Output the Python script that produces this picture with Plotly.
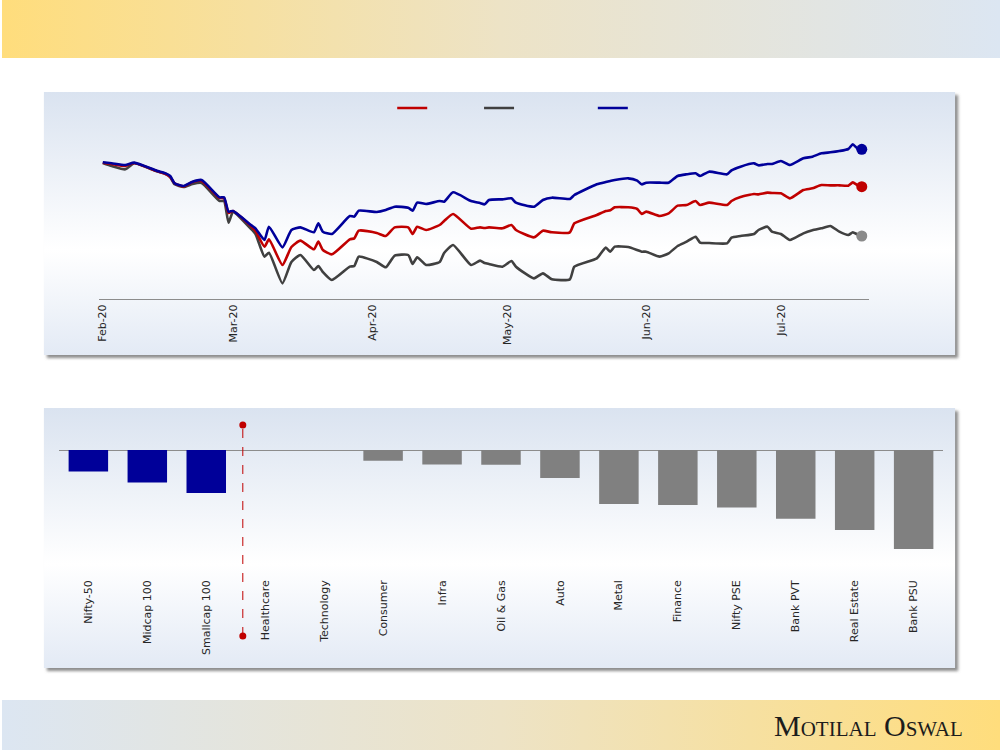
import base64
import plotly.graph_objects as go

# --- line chart data (rebased index) ---
dates = [
    '2020-02-01', '2020-02-03', '2020-02-06', '2020-02-08', '2020-02-13', '2020-02-15', '2020-02-16',
    '2020-02-17', '2020-02-19', '2020-02-21', '2020-02-23', '2020-02-27', '2020-02-28', '2020-02-29',
    '2020-03-01', '2020-03-05', '2020-03-06', '2020-03-08', '2020-03-09', '2020-03-12', '2020-03-14',
    '2020-03-16', '2020-03-19', '2020-03-20', '2020-03-21', '2020-03-23', '2020-03-27', '2020-03-28',
    '2020-03-29', '2020-04-02', '2020-04-04', '2020-04-06', '2020-04-09', '2020-04-10', '2020-04-11',
    '2020-04-13', '2020-04-16', '2020-04-17', '2020-04-19', '2020-04-23', '2020-04-25', '2020-04-26',
    '2020-04-27', '2020-04-30', '2020-05-02', '2020-05-03', '2020-05-07', '2020-05-09', '2020-05-11',
    '2020-05-15', '2020-05-16', '2020-05-21', '2020-05-23', '2020-05-24', '2020-05-25', '2020-05-28',
    '2020-05-30', '2020-05-31', '2020-06-01', '2020-06-04', '2020-06-06', '2020-06-08', '2020-06-10',
    '2020-06-12', '2020-06-13', '2020-06-15', '2020-06-19', '2020-06-20', '2020-06-22', '2020-06-25',
    '2020-06-26', '2020-06-28', '2020-06-29', '2020-07-01', '2020-07-03', '2020-07-06', '2020-07-08',
    '2020-07-10', '2020-07-12', '2020-07-14', '2020-07-16', '2020-07-17', '2020-07-18', '2020-07-19',
]

red_series = [
    99.8, 99.4, 98.8, 99.7, 97.3, 96.4, 95.5, 93.6, 92.7, 94.0, 94.3, 89.2, 89.2, 84.7,
    85.3, 80.8, 79.3, 74.6, 76.8, 69.1, 74.5, 76.4, 73.8, 76.1, 73.6, 72.3, 76.8, 77.1,
    79.4, 78.7, 77.8, 80.4, 80.4, 78.4, 80.6, 79.6, 81.1, 82.3, 84.4, 80.0, 80.4, 80.2,
    80.4, 80.1, 81.1, 79.6, 77.4, 79.4, 78.9, 78.9, 81.6, 84.1, 85.3, 85.5, 86.4, 86.4,
    85.9, 84.4, 85.1, 83.8, 84.6, 86.9, 87.1, 88.3, 87.1, 87.8, 87.1, 88.3, 89.5, 90.4,
    90.3, 90.8, 90.7, 90.6, 89.1, 91.6, 92.1, 93.1, 93.0, 93.0, 92.9, 93.9, 93.1, 92.6,
]

gray_series = [
    99.7, 98.8, 97.8, 99.6, 97.2, 96.4, 95.5, 93.3, 92.5, 93.4, 93.7, 88.3, 88.3, 81.8,
    85.0, 79.9, 78.4, 71.6, 72.8, 63.6, 70.0, 72.1, 67.6, 68.8, 67.0, 64.6, 68.6, 68.8,
    71.6, 70.0, 68.4, 71.9, 72.1, 69.4, 71.4, 69.1, 70.0, 72.7, 75.1, 69.1, 70.4, 69.7,
    69.4, 68.6, 70.3, 68.6, 65.1, 66.6, 64.8, 64.8, 68.6, 71.1, 74.3, 73.1, 74.6, 74.5,
    73.6, 73.1, 73.1, 71.6, 72.6, 74.8, 76.1, 77.6, 75.8, 75.7, 75.6, 77.3, 77.8, 78.4,
    79.6, 80.6, 79.1, 78.4, 76.6, 78.6, 79.5, 80.1, 80.8, 79.1, 78.1, 78.9, 78.3, 77.8,
]

blue_series = [
    99.9, 99.6, 99.1, 99.8, 97.4, 96.6, 95.8, 93.6, 92.8, 94.1, 94.6, 89.4, 89.4, 85.1,
    85.3, 81.1, 80.1, 76.6, 80.6, 74.4, 79.6, 80.4, 78.9, 81.6, 79.1, 78.4, 83.8, 83.6,
    85.4, 85.0, 85.6, 86.6, 86.3, 85.4, 87.8, 87.4, 88.3, 88.1, 90.9, 88.3, 87.7, 87.3,
    88.6, 88.8, 89.1, 87.8, 86.6, 88.6, 89.3, 88.9, 90.1, 93.3, 94.0, 94.3, 94.6, 95.1,
    94.4, 93.3, 93.8, 93.8, 93.8, 95.8, 96.3, 96.6, 95.8, 97.1, 96.3, 97.5, 98.6, 99.6,
    99.0, 99.4, 99.4, 100.3, 99.1, 101.1, 101.6, 102.6, 102.9, 103.3, 103.9, 105.3, 104.1, 103.8,
]

# --- bar chart data (% change) ---
categories = ['Nifty-50', 'Midcap 100', 'Smallcap 100', 'Healthcare', 'Technology', 'Consumer',
              'Infra', 'Oil & Gas', 'Auto', 'Metal', 'Finance', 'Nifty PSE', 'Bank PVT',
              'Real Estate', 'Bank PSU']
returns = [-8.6, -13.0, -17.2, 0, 0, -4.3, -5.8, -5.9, -11.2, -21.6, -22.0, -23.0, -27.5, -32.0, -39.6]
bar_colors = ['#000099'] * 3 + ['#808080'] * 12

W, H = 1000, 750


def px_x(x):
    return x / W


def px_y(y):
    return 1 - y / H


# background: banners and panels with gradients
svg = f'''<svg xmlns="http://www.w3.org/2000/svg" width="{W}" height="{H}" viewBox="0 0 {W} {H}">
<defs>
<linearGradient id="top" x1="0" y1="0" x2="1" y2="0"><stop offset="0" stop-color="#FFDD7C"/><stop offset="0.5" stop-color="#EDE3C6"/><stop offset="1" stop-color="#DCE6F2"/></linearGradient>
<linearGradient id="bot" x1="0" y1="0" x2="1" y2="0"><stop offset="0" stop-color="#DCE6F2"/><stop offset="0.5" stop-color="#EDE3C6"/><stop offset="1" stop-color="#FFDD7C"/></linearGradient>
<linearGradient id="pan" x1="0" y1="0" x2="0" y2="1"><stop offset="0" stop-color="#DAE3F0"/><stop offset="0.6" stop-color="#FFFFFF"/><stop offset="1" stop-color="#E3EAF5"/></linearGradient>
<filter id="sh" x="-5%" y="-10%" width="110%" height="130%"><feGaussianBlur stdDeviation="1.8"/></filter>
</defs>
<rect width="1000" height="58" fill="url(#top)"/>
<rect y="700" width="1000" height="50" fill="url(#bot)"/>
<rect x="45" y="95" width="913" height="263" fill="#8c8c8c" filter="url(#sh)"/>
<rect x="42" y="92" width="913" height="263" fill="url(#pan)"/>
<rect x="45" y="411" width="913" height="260" fill="#8c8c8c" filter="url(#sh)"/>
<rect x="42" y="408" width="913" height="260" fill="url(#pan)"/>
</svg>'''
bg_src = 'data:image/svg+xml;base64,' + base64.b64encode(svg.encode()).decode()

fig = go.Figure()

# line chart
line_specs = [
    (gray_series, '#404040', '#8a8a8a', 'legend2'),
    (red_series, '#C00000', '#C00000', 'legend'),
    (blue_series, '#00009A', '#00009A', 'legend3'),
]
for series, color, dot_color, leg in line_specs:
    fig.add_trace(go.Scatter(
        x=dates, y=series, mode='lines', name=' ', legend=leg,
        line=dict(color=color, width=2.6, shape='spline', smoothing=0.5),
        xaxis='x', yaxis='y'
    ))
for series, color, dot_color, leg in line_specs:
    fig.add_trace(go.Scatter(
        x=[dates[-1]], y=[series[-1]], mode='markers', showlegend=False,
        marker=dict(color=dot_color, size=11),
        xaxis='x', yaxis='y'
    ))

# bar chart
fig.add_trace(go.Bar(
    x=categories, y=returns, marker=dict(color=bar_colors, line=dict(width=0)),
    showlegend=False, xaxis='x2', yaxis='y2'
))

# red dashed separator between indices and sectors
sep_x = 2.62
sep_top, sep_bot = px_y(425), px_y(636)
shapes = [
    dict(type='line', xref='x2', yref='paper', x0=sep_x, x1=sep_x, y0=sep_bot, y1=sep_top,
         line=dict(color='#C00000', width=1, dash='dash')),
]
for yy in (sep_top, sep_bot):
    shapes.append(dict(type='circle', xref='x2', yref='paper', xsizemode='pixel', ysizemode='pixel',
                       xanchor=sep_x, yanchor=yy, x0=-3.5, x1=3.5, y0=-3.5, y1=3.5,
                       fillcolor='#C00000', line=dict(width=0)))

tick_font = dict(family='DejaVu Sans', size=11, color='#262626')
leg_common = dict(orientation='h', yanchor='middle', xanchor='left', bgcolor='rgba(0,0,0,0)',
                  font=dict(size=11), itemwidth=30)

fig.update_layout(
    width=W, height=H,
    margin=dict(l=0, r=0, t=0, b=0),
    paper_bgcolor='white', plot_bgcolor='rgba(0,0,0,0)',
    images=[dict(source=bg_src, xref='paper', yref='paper', x=0, y=1, sizex=1, sizey=1,
                 sizing='stretch', xanchor='left', yanchor='top', layer='below')],
    xaxis=dict(
        domain=[px_x(97), px_x(869)], anchor='y', type='date',
        range=['2020-01-31 02:40', '2020-07-20 16:00'],
        tick0='2020-02-01', dtick='M1', tickformat='%b-%y', tickangle=-90,
        showline=True, linecolor='#8c8c8c', linewidth=1, showgrid=False, zeroline=False,
        ticks='', tickfont=tick_font
    ),
    yaxis=dict(
        domain=[px_y(299), px_y(140)], anchor='x', range=[58.9, 106.6],
        visible=False
    ),
    xaxis2=dict(
        domain=[px_x(57), px_x(943)], anchor='y2', range=[-0.5, 14.5],
        tickangle=-90, showline=False, showgrid=False, ticks='', tickfont=tick_font
    ),
    yaxis2=dict(
        domain=[px_y(577), px_y(420)], anchor='x2', range=[-50.8, 12],
        showticklabels=False, showgrid=False, showline=False,
        zeroline=True, zerolinecolor='#8c8c8c', zerolinewidth=1
    ),
    bargap=0.33,
    shapes=shapes,
    legend=dict(x=px_x(391), y=px_y(108), **leg_common),
    legend2=dict(x=px_x(478), y=px_y(108), **leg_common),
    legend3=dict(x=px_x(592), y=px_y(108), **leg_common),
    annotations=[dict(
        text='Motilal Oswal', xref='paper', yref='paper', x=px_x(772), y=px_y(725),
        xanchor='left', yanchor='middle', showarrow=False,
        font=dict(family='Liberation Serif', size=30, color='#1c1c1c', variant='small-caps')
    )],
)

# drop the default page margin so the 1000x750 figure fills the window exactly
fig.write_html('out.html', config={'displayModeBar': False},
               post_script="document.body.style.margin='0';document.body.style.overflow='hidden';")
